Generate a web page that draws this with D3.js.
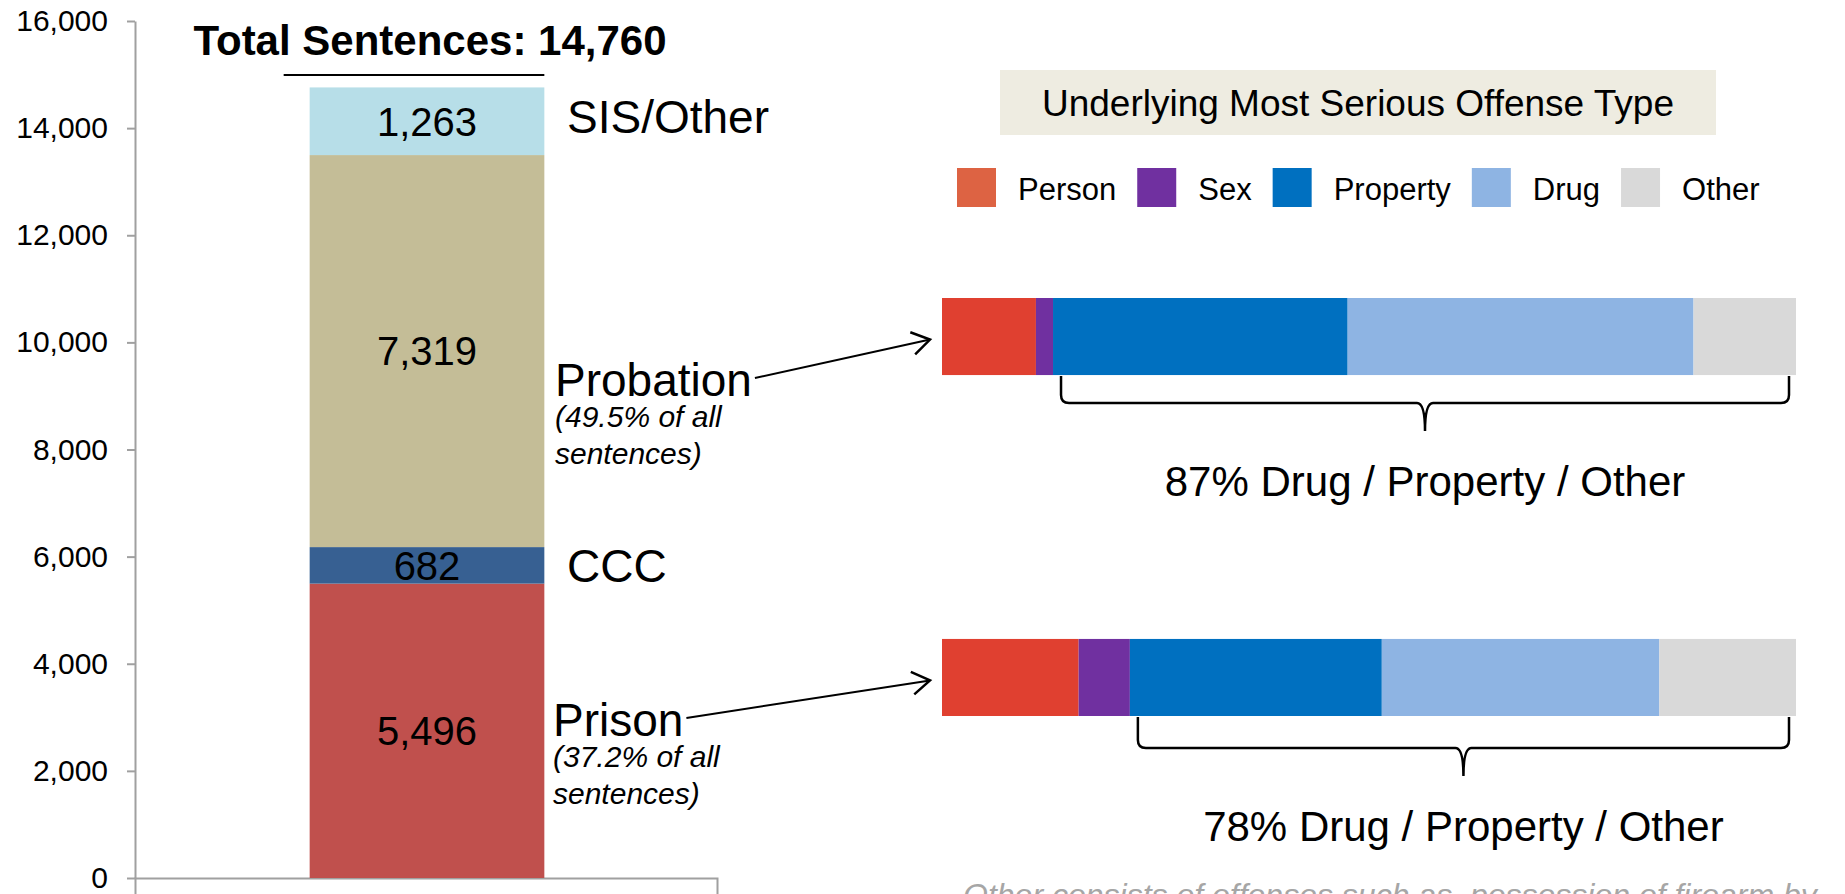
<!DOCTYPE html>
<html>
<head>
<meta charset="utf-8">
<script src="https://cdn.jsdelivr.net/npm/d3@7"></script>
<style>
  body { margin: 0; background: #fff; }
  svg { display: block; font-family: "Liberation Sans", Arial, sans-serif; }
</style>
</head>
<body>
<svg id="chart" width="1845" height="894"></svg>
<script>
// Sentence totals (left stacked bar)
const sentenceTypes = ["Prison", "CCC", "Probation", "SIS/Other"];
const sentenceCounts = [5496, 682, 7319, 1263];
const sentenceColors = ["#c0504d", "#376092", "#c4bd97", "#b7dee8"];
const yTicks = [0, 2000, 4000, 6000, 8000, 10000, 12000, 14000, 16000];

// Underlying offense mix (percent of each sentence type)
const offenseTypes = ["Person", "Sex", "Property", "Drug", "Other"];
const offenseRows = ["Probation", "Prison"];
const probationShares = [11, 2, 34.5, 40.5, 12];
const prisonShares = [16, 6, 29.5, 32.5, 16];
const offenseColors = ["#e04030", "#7030a0", "#0070c0", "#8eb4e3", "#d9d9d9"];
const legendColors = ["#dd6343", "#7030a0", "#0070c0", "#8eb4e3", "#d9d9d9"];

const svg = d3.select("#chart");
const fmt = d3.format(",");

// ---------- left: stacked bar ----------
const y = d3.scaleLinear().domain([0, 16000]).range([878, 21]);
const x = d3.scaleBand().domain(["All"]).range([136, 718]).paddingInner(0).paddingOuter(0.74);

const row = {};
sentenceTypes.forEach((t, i) => (row[t] = sentenceCounts[i]));
const stacked = d3.stack().keys(sentenceTypes)([row]);

const yAxis = svg.append("g")
  .attr("transform", "translate(135,0)")
  .call(d3.axisLeft(y).tickValues(yTicks).tickFormat(fmt).tickSize(8).tickSizeOuter(0).tickPadding(19));
yAxis.selectAll("text").attr("font-size", 30).attr("fill", "#000").attr("font-family", "Liberation Sans, Arial, sans-serif");
yAxis.selectAll("path, line").attr("stroke", "#a0a0a0").attr("stroke-width", 2);

const xAxis = svg.append("g")
  .attr("transform", "translate(-1,878)")
  .call(d3.axisBottom(x).tickValues([]).tickSizeOuter(16));
xAxis.select(".domain").attr("stroke", "#a0a0a0").attr("stroke-width", 2);

const seg = svg.append("g").selectAll("g")
  .data(stacked)
  .join("g");

seg.append("rect")
  .attr("x", x("All"))
  .attr("width", x.bandwidth())
  .attr("y", d => y(d[0][1]))
  .attr("height", d => y(d[0][0]) - y(d[0][1]))
  .attr("fill", (d, i) => sentenceColors[i]);

seg.append("text")
  .attr("x", x("All") + x.bandwidth() / 2)
  .attr("y", d => (y(d[0][0]) + y(d[0][1])) / 2)
  .attr("dy", "0.36em")
  .attr("text-anchor", "middle")
  .attr("font-size", 40)
  .text(d => fmt(d[0].data[d.key]));

// title + underline
const total = d3.sum(sentenceCounts);
svg.append("text")
  .attr("x", 430).attr("y", 55)
  .attr("text-anchor", "middle")
  .attr("font-size", 42).attr("font-weight", "bold")
  .text("Total Sentences: " + fmt(total));
svg.append("line")
  .attr("x1", x("All") - 26).attr("x2", x("All") + x.bandwidth())
  .attr("y1", 75).attr("y2", 75)
  .attr("stroke", "#000").attr("stroke-width", 2);

// side annotations
const side = svg.append("g").attr("font-size", 46);
side.append("text").attr("x", 567).attr("y", 133).text("SIS/Other");
side.append("text").attr("x", 567).attr("y", 582).text("CCC");
const probLabel = side.append("text").attr("x", 555).attr("y", 396).text("Probation");
const prisLabel = side.append("text").attr("x", 553).attr("y", 736).text("Prison");

const notes = svg.append("g").attr("font-size", 30).attr("font-style", "italic");
notes.append("text").attr("x", 555).attr("y", 427).text("(49.5% of all");
notes.append("text").attr("x", 555).attr("y", 464).text("sentences)");
notes.append("text").attr("x", 553).attr("y", 767).text("(37.2% of all");
notes.append("text").attr("x", 553).attr("y", 804).text("sentences)");

// ---------- right: offense mix ----------
const xs = d3.scaleLinear().domain([0, 100]).range([942, 1796]);
const ys = d3.scaleBand().domain(offenseRows).range([298, 716]).paddingInner(0.774).paddingOuter(0);

// legend title box
svg.append("rect")
  .attr("x", 1000).attr("y", 70).attr("width", 716).attr("height", 65)
  .attr("fill", "#eeece1");
svg.append("text")
  .attr("x", 1358).attr("y", 116)
  .attr("text-anchor", "middle").attr("font-size", 37)
  .text("Underlying Most Serious Offense Type");

// legend
let lx = 957;
offenseTypes.forEach((t, i) => {
  svg.append("rect")
    .attr("x", lx).attr("y", 168).attr("width", 39).attr("height", 39)
    .attr("fill", legendColors[i]);
  const tx = svg.append("text")
    .attr("x", lx + 61).attr("y", 200)
    .attr("font-size", 31)
    .text(t);
  lx = lx + 61 + tx.node().getComputedTextLength() + 21;
});

const shareRows = [probationShares, prisonShares];
shareRows.forEach((shares, r) => {
  const name = offenseRows[r];
  const rowObj = {};
  offenseTypes.forEach((t, i) => (rowObj[t] = shares[i]));
  const st = d3.stack().keys(offenseTypes)([rowObj]);
  const y0 = ys(name), h = ys.bandwidth();

  svg.append("g").selectAll("rect")
    .data(st)
    .join("rect")
    .attr("x", d => xs(d[0][0]))
    .attr("width", d => xs(d[0][1]) - xs(d[0][0]))
    .attr("y", y0)
    .attr("height", h)
    .attr("fill", (d, i) => offenseColors[i]);

  // brace under Property / Drug / Other
  const bx0 = xs(shares[0] + shares[1]) + 8;
  const bx1 = xs(100) - 7;
  const top = y0 + h + 1;
  const yh = top + 27 + r * 4;
  const cusp = yh + 28;
  const xm = (bx0 + bx1) / 2;
  const rr = 8;
  const p = d3.path();
  p.moveTo(bx0, top);
  p.lineTo(bx0, yh - rr);
  p.quadraticCurveTo(bx0, yh, bx0 + rr, yh);
  p.lineTo(xm - rr, yh);
  p.quadraticCurveTo(xm, yh, xm, cusp);
  p.quadraticCurveTo(xm, yh, xm + rr, yh);
  p.lineTo(bx1 - rr, yh);
  p.quadraticCurveTo(bx1, yh, bx1, yh - rr);
  p.lineTo(bx1, top);
  svg.append("path")
    .attr("d", p.toString())
    .attr("fill", "none").attr("stroke", "#000").attr("stroke-width", 2.5);

  const grouped = d3.sum(shares.slice(2));
  svg.append("text")
    .attr("x", xm).attr("y", yh + 93)
    .attr("text-anchor", "middle").attr("font-size", 42)
    .text(Math.round(grouped) + "% Drug / Property / Other");
});

// arrows from the labels to the bars
function arrow(label, rowName) {
  const bb = label.node().getBBox();
  const sx = bb.x + bb.width + 3;
  const sy = +label.attr("y") - 18;
  const ex = xs(0) - 12;
  const ey = ys(rowName) + ys.bandwidth() / 2 + 3;
  svg.append("line")
    .attr("x1", sx).attr("y1", sy).attr("x2", ex).attr("y2", ey)
    .attr("stroke", "#000").attr("stroke-width", 2);
  const a = Math.atan2(ey - sy, ex - sx);
  const len = 21, spread = Math.PI / 5.5;
  const pts = [
    [ex - len * Math.cos(a - spread), ey - len * Math.sin(a - spread)],
    [ex, ey],
    [ex - len * Math.cos(a + spread), ey - len * Math.sin(a + spread)]
  ];
  svg.append("path")
    .attr("d", d3.line()(pts))
    .attr("fill", "none").attr("stroke", "#000").attr("stroke-width", 2.5);
}
arrow(probLabel, "Probation");
arrow(prisLabel, "Prison");

// footnote (cut off at the bottom in the original)
svg.append("text")
  .attr("x", 963).attr("y", 906)
  .attr("font-size", 32).attr("font-style", "italic")
  .attr("fill", "#a6a6a6")
  .text("Other consists of offenses such as,  possession of firearm by");
</script>
</body>
</html>
